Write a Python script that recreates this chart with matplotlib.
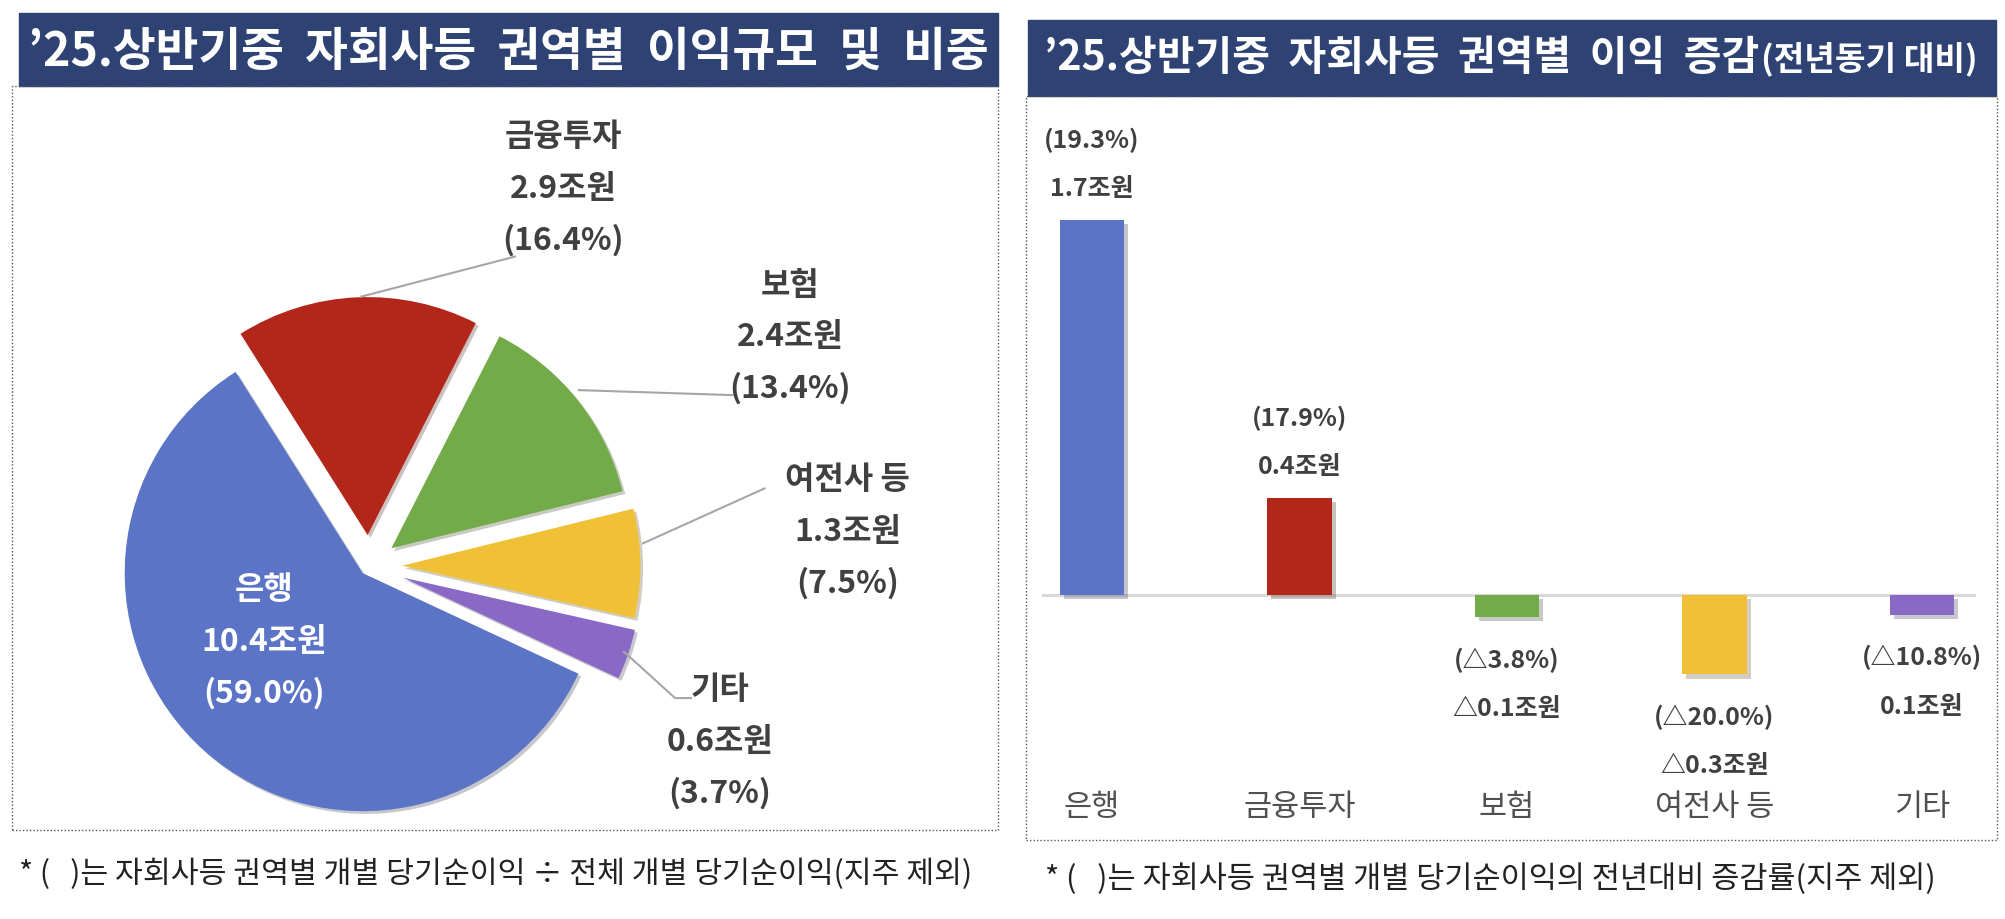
import matplotlib as mpl
mpl.use('Agg')
import matplotlib.pyplot as plt
import matplotlib.patheffects as pe
from matplotlib.patches import Rectangle

plt.rcParams['font.family'] = ['Noto Sans CJK KR', 'DejaVu Sans']

# ---- data ----
sectors = ['은행', '금융투자', '보험', '여전사 등', '기타']
profit = [10.4, 2.9, 2.4, 1.3, 0.6]            # 조원, 1H25
share = [59.0, 16.4, 13.4, 7.5, 3.7]           # %
change = [1.7, 0.44, -0.1, -0.36, -0.09]       # 조원, yoy
change_lbl = ['1.7조원', '0.4조원', '△0.1조원', '△0.3조원', '0.1조원']
change_pct = ['(19.3%)', '(17.9%)', '(△3.8%)', '(△20.0%)', '(△10.8%)']

colors = ['#5B74C6', '#B3261A', '#73AB48', '#F0C136', '#8A68C6']
navy = '#2E4374'
txt = '#404040'

W, H = 2006, 919
fig = plt.figure(figsize=(W / 100, H / 100), dpi=100)

def fx(px):
    return px / W

def fy(py):
    return 1 - py / H

# banners and dotted boxes
fig.patches.append(Rectangle((fx(19), fy(86)), fx(998 - 19), 73 / H, transform=fig.transFigure,
                             color=navy, zorder=0))
fig.patches.append(Rectangle((fx(1028), fy(96)), fx(1996 - 1028), 76 / H, transform=fig.transFigure,
                             color=navy, zorder=0))
fig.patches.append(Rectangle((fx(12), fy(830)), fx(998 - 12), (830 - 86) / H, transform=fig.transFigure,
                             fill=False, ec='#555555', lw=1, ls=(0, (1, 1.5)), zorder=0))
fig.patches.append(Rectangle((fx(1026), fy(840)), fx(1997 - 1026), (840 - 96) / H, transform=fig.transFigure,
                             fill=False, ec='#555555', lw=1, ls=(0, (1, 1.5)), zorder=0))

fig.text(fx(508), fy(52), '’25.상반기중  자회사등  권역별  이익규모  및  비중', color='white',
         fontsize=33.5, fontweight='bold', ha='center', va='center')
t2 = fig.text(fx(1044), fy(58), '’25.상반기중  자회사등  권역별  이익  증감', color='white',
              fontsize=29.5, fontweight='bold', ha='left', va='center')
fig.canvas.draw()
bb = t2.get_window_extent()
fig.text(bb.x1 / W + 0.001, bb.y0 / H + 0.003, '(전년동기 대비)', color='white', fontsize=24,
         fontweight='bold', ha='left', va='bottom')

fig.text(fx(19), fy(874), '* (   )는 자회사등 권역별 개별 당기순이익 ÷ 전체 개별 당기순이익(지주 제외)',
         fontsize=21.8, color='#222222', ha='left', va='center')
fig.text(fx(1045), fy(879), '* (   )는 자회사등 권역별 개별 당기순이익의 전년대비 증감률(지주 제외)',
         fontsize=22, color='#222222', ha='left', va='center')

# ---- pie ----
cx, cy, R, half = 369, 566, 238, 330
ax1 = fig.add_axes([fx(cx - half), fy(cy + half), 2 * half / W, 2 * half / H])
explode = [0.04, 0.13, 0.12, 0.14, 0.15]
wedges, _ = ax1.pie(profit, colors=colors, startangle=335, counterclock=False,
                    explode=explode, radius=1,
                    wedgeprops=dict(linewidth=0))
for w in wedges:
    w.set_path_effects([pe.SimplePatchShadow(offset=(2, -2), alpha=0.25), pe.Normal()])
lim = half / R
ax1.set_xlim(-lim, lim)
ax1.set_ylim(-lim, lim)
ax1.set_aspect('equal')
ax1.axis('off')

# label block centres (pie units) and leader lines
label_pos = [(-0.44, -0.318), (0.815, 1.586), (1.769, 0.962), (2.012, 0.144), (1.475, -0.738)]
leaders = [None,
           [(-0.032, 1.132), (0.613, 1.300)],
           [(0.882, 0.739), (1.528, 0.718)],
           [(1.151, 0.095), (1.662, 0.326)],
           [(1.071, -0.360), (1.286, -0.555), (1.353, -0.555)]]
step = 51.5 / R
for i, name in enumerate(sectors):
    x, y = label_pos[i]
    c = 'white' if i == 0 else txt
    lines = [name, f'{profit[i]}조원', f'({share[i]:.1f}%)']
    for k, s in enumerate(lines):
        ax1.text(x, y + (1 - k) * step, s, ha='center', va='center', fontsize=23,
                 fontweight='bold', color=c, clip_on=False)
    if leaders[i]:
        xs, ys = zip(*leaders[i])
        ax1.plot(xs, ys, color='#A6A6A6', lw=1.5, clip_on=False)

# ---- bars ----
x0, x1, zero_px, top_px, bot_px, scale = 1042, 1976, 595, 110, 790, 220.6
ax2 = fig.add_axes([fx(x0), fy(bot_px), (x1 - x0) / W, (bot_px - top_px) / H])
pos = list(range(len(sectors)))
bars = ax2.bar(pos, change, width=0.31, color=colors, zorder=3)
for b in bars:
    b.set_path_effects([pe.SimplePatchShadow(offset=(3, -3), alpha=0.25), pe.Normal()])
ax2.axhline(0, color='#D9D9D9', lw=2.2, zorder=2)
ax2.set_xlim(-0.24, 4.26)
ax2.set_ylim(-(bot_px - zero_px) / scale, (zero_px - top_px) / scale)
ax2.axis('off')

for i, v in enumerate(change):
    if v >= 0:
        off_pct, off_val = 57, 22
    else:
        off_pct, off_val = -31, -66
    ax2.annotate(change_pct[i], (i, v), xytext=(0, off_pct), textcoords='offset points',
                 ha='center', va='center', fontsize=18, fontweight='bold', color=txt)
    ax2.annotate(change_lbl[i], (i, v), xytext=(0, off_val), textcoords='offset points',
                 ha='center', va='center', fontsize=18, fontweight='bold', color=txt)
    ax2.text(i, -(808 - zero_px) / scale, sectors[i], ha='center', va='center',
             fontsize=22, color='#505050', clip_on=False)

fig.savefig('out.png', dpi=100)
